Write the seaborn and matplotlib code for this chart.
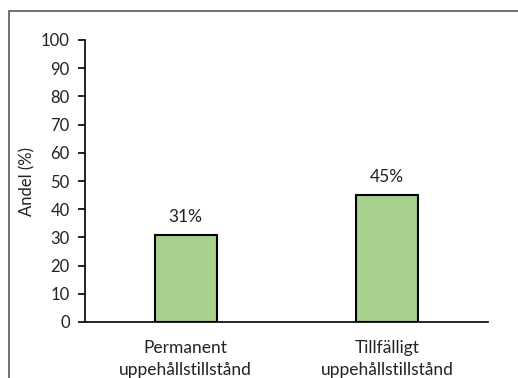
import matplotlib.pyplot as plt
import matplotlib.patches as mpatches
import seaborn as sns
import pandas as pd

categories = ['Permanent\nuppehållstillstånd', 'Tillfälligt\nuppehållstillstånd']
values = [31, 45]
value_labels = ['31%', '45%']
yticks = [0, 10, 20, 30, 40, 50, 60, 70, 80, 90, 100]

df = pd.DataFrame({'kategori': categories, 'andel': values})

sns.set_style('white')
plt.rcParams['font.family'] = ['Lato', 'DejaVu Sans']

fig = plt.figure(figsize=(5.18, 3.78), dpi=100)
ax = fig.add_axes([85 / 518, 56 / 378, 403 / 518, 282 / 378])

sns.barplot(data=df, x='kategori', y='andel', color='#A9D18E', width=0.31,
            edgecolor='black', linewidth=1.5, saturation=1, ax=ax)

ax.set_ylim(0, 100)
ax.set_xlim(-0.5, 1.5)
ax.set_yticks(yticks)
ax.set_yticklabels([str(t) for t in yticks], fontsize=12, color='#222222')
ax.tick_params(axis='y', direction='out', length=5, width=1.2, color='black', pad=6, left=True)
ax.set_xticks(range(len(categories)))
ax.set_xticklabels(categories, fontsize=12.5, color='#222222', linespacing=1.45)
ax.tick_params(axis='x', length=0, pad=13)
ax.set_xlabel('')
ax.set_ylabel('Andel (%)', fontsize=12, color='#222222')
ax.yaxis.set_label_coords(-50 / 403, 0.5)

for s in ['top', 'right']:
    ax.spines[s].set_visible(False)
for s in ['left', 'bottom']:
    ax.spines[s].set_color('black')
    ax.spines[s].set_linewidth(1.2)

for i, (v, lab) in enumerate(zip(values, value_labels)):
    ax.annotate(lab, (i, v), xytext=(0, 7), textcoords='offset points',
                ha='center', va='bottom', fontsize=12.5, color='#222222')

frame = mpatches.Rectangle((9 / 518, -0.1), 1.2, (378 - 11) / 378 + 0.1,
                           transform=fig.transFigure, fill=False,
                           edgecolor='#595959', linewidth=1.2, clip_on=False)
fig.patches.append(frame)

fig.savefig('out.png', dpi=100)
